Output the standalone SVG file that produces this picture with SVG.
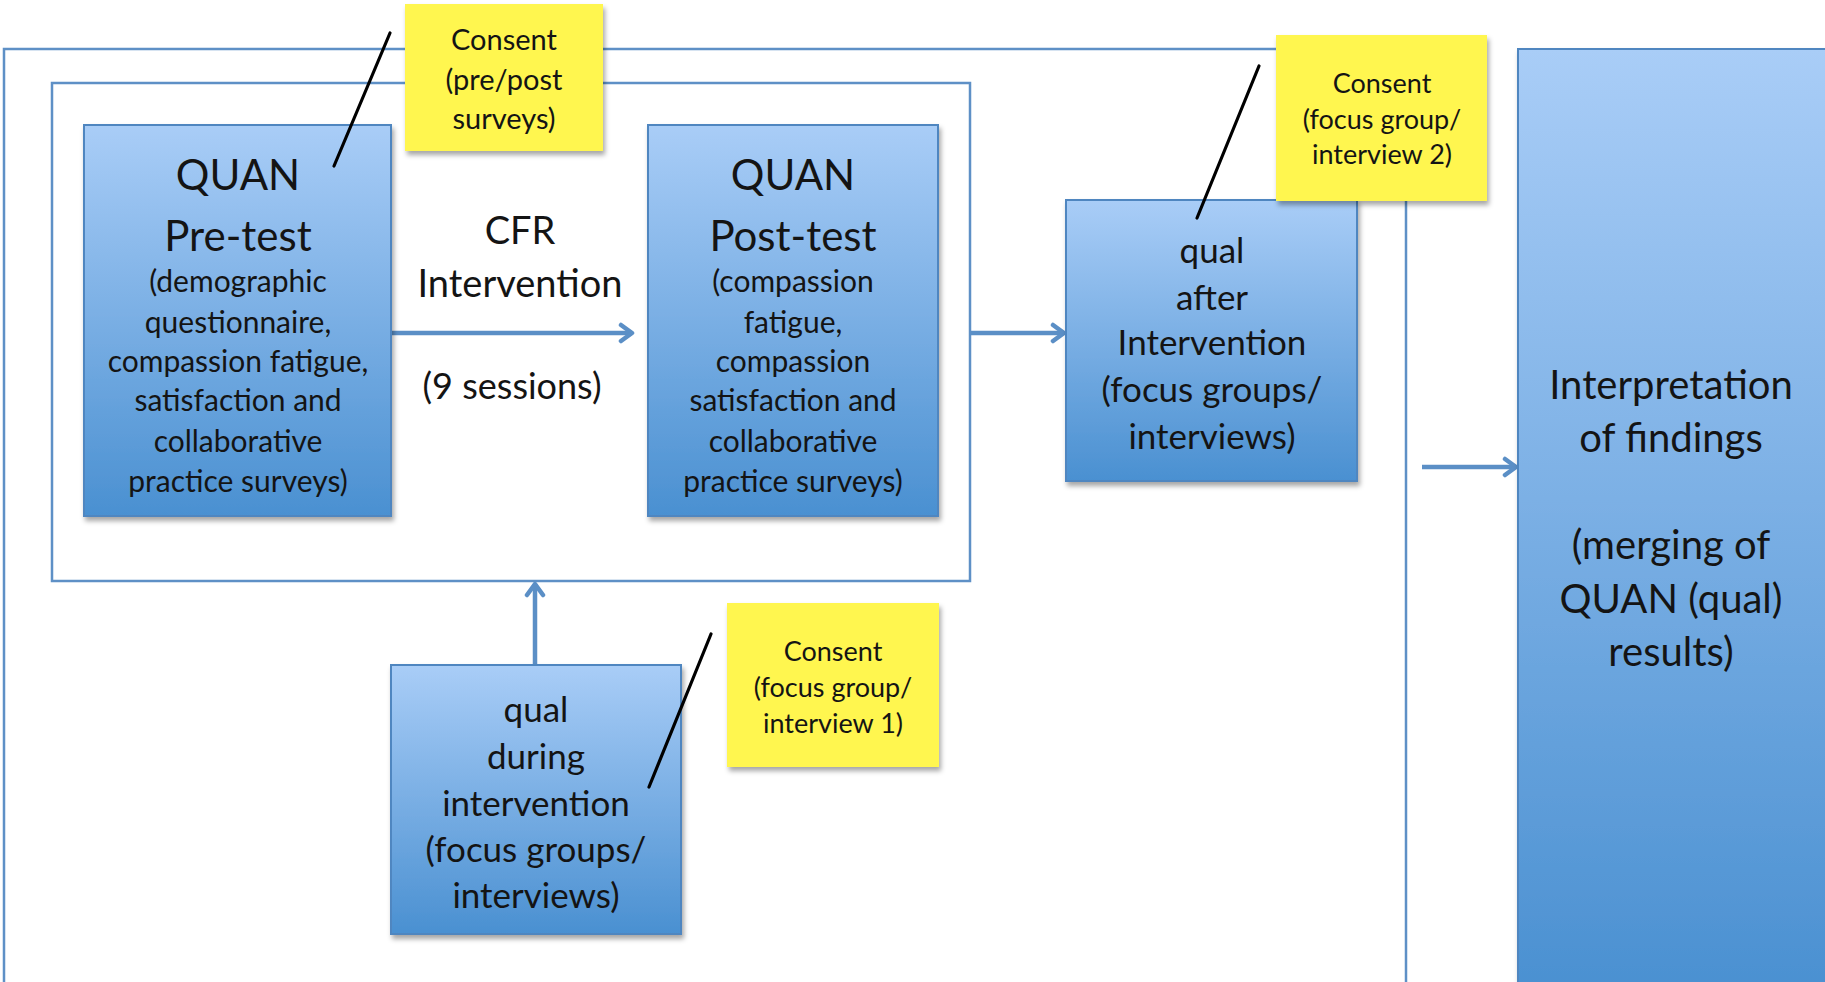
<svg xmlns="http://www.w3.org/2000/svg" width="1825" height="982" viewBox="0 0 1825 982">
<defs>
<linearGradient id="blue" x1="0" y1="0" x2="0" y2="1">
<stop offset="0" stop-color="#a9cdf7"/>
<stop offset="1" stop-color="#4a90d1"/>
</linearGradient>
<filter id="sh" x="-10%" y="-10%" width="130%" height="130%">
<feDropShadow dx="2" dy="4" stdDeviation="2.5" flood-color="#000" flood-opacity="0.35"/>
</filter>
<marker id="ah" viewBox="0 0 22 22" refX="18" refY="11" markerWidth="22" markerHeight="22" markerUnits="userSpaceOnUse" orient="auto">
<path d="M7,3 L18,11 L7,19" fill="none" stroke="#5b8fc6" stroke-width="4.5" stroke-linecap="round" stroke-linejoin="round"/>
</marker>
<style>
.frame{fill:none;stroke:#5e90c6;stroke-width:2.5}
.box{fill:url(#blue);stroke:#4f86c0;stroke-width:2;filter:url(#sh)}
.note{fill:#fff64f;filter:url(#sh)}
.conn{fill:none;stroke:#5b8fc6;stroke-width:4.5;marker-end:url(#ah)}
.pin{stroke:#000;stroke-width:3.2;stroke-linecap:round}
text{font-family:Lato,"Open Sans","Liberation Sans",sans-serif;fill:#141414;text-anchor:middle}
.big{font-size:42px}
.mid{font-size:38px}
.ses{font-size:36px}
.int{font-size:40px}
.sm{font-size:30px}
.lab{font-size:35px}
.nt{font-size:29px}
.nt2{font-size:27px}
</style>
</defs>
<rect width="1825" height="982" fill="#ffffff"/>
<g id="frames">
<rect class="frame" x="4" y="49" width="1402" height="940"/>
<rect class="frame" x="52" y="83" width="918" height="498"/>
</g>
<g id="connectors">
<path class="conn" d="M391,333 L632,333"/>
<path class="conn" d="M970,333 L1064,333"/>
<path class="conn" d="M1422,467 L1516,467"/>
<path class="conn" d="M535,665 L535,584"/>
</g>
<g id="pretest">
<rect class="box" x="84" y="125" width="307" height="391"/>
<text class="big" x="238" y="190">QUAN</text>
<text class="big" x="238" y="251">Pre-test</text>
<text class="sm" x="238" y="292">(demographic</text>
<text class="sm" x="238" y="333">questionnaire,</text>
<text class="sm" x="238" y="372">compassion fatigue,</text>
<text class="sm" x="238" y="411">satisfaction and</text>
<text class="sm" x="238" y="452">collaborative</text>
<text class="sm" x="238" y="492">practice surveys)</text>
</g>
<g id="cfr">
<text class="mid" x="520" y="244">CFR</text>
<text class="mid" x="520" y="297">Intervention</text>
<text class="ses" x="512" y="399">(9 sessions)</text>
</g>
<g id="posttest">
<rect class="box" x="648" y="125" width="290" height="391"/>
<text class="big" x="793" y="190">QUAN</text>
<text class="big" x="793" y="251">Post-test</text>
<text class="sm" x="793" y="292">(compassion</text>
<text class="sm" x="793" y="333">fatigue,</text>
<text class="sm" x="793" y="372">compassion</text>
<text class="sm" x="793" y="411">satisfaction and</text>
<text class="sm" x="793" y="452">collaborative</text>
<text class="sm" x="793" y="492">practice surveys)</text>
</g>
<g id="qualafter">
<rect class="box" x="1066" y="200" width="291" height="281"/>
<text class="lab" x="1212" y="263">qual</text>
<text class="lab" x="1212" y="310">after</text>
<text class="lab" x="1212" y="355">Intervention</text>
<text class="lab" x="1212" y="402">(focus groups/</text>
<text class="lab" x="1212" y="449">interviews)</text>
</g>
<g id="qualduring">
<rect class="box" x="391" y="665" width="290" height="269"/>
<text class="lab" x="536" y="722">qual</text>
<text class="lab" x="536" y="769">during</text>
<text class="lab" x="536" y="816">intervention</text>
<text class="lab" x="536" y="862">(focus groups/</text>
<text class="lab" x="536" y="908">interviews)</text>
</g>
<g id="interpretation">
<rect class="box" x="1518" y="49" width="320" height="945"/>
<text class="int" x="1671" y="399">Interpretation</text>
<text class="int" x="1671" y="452">of findings</text>
<text class="int" x="1671" y="559">(merging of</text>
<text class="int" x="1671" y="613">QUAN (qual)</text>
<text class="int" x="1671" y="666">results)</text>
</g>
<g id="consent1">
<rect class="note" x="405" y="4" width="198" height="147"/>
<text class="nt" x="504" y="50">Consent</text>
<text class="nt" x="504" y="90">(pre/post</text>
<text class="nt" x="504" y="129">surveys)</text>
<line class="pin" x1="390" y1="33" x2="334" y2="166"/>
</g>
<g id="consent2">
<rect class="note" x="1276" y="35" width="211" height="166"/>
<text class="nt2" x="1382" y="93">Consent</text>
<text class="nt2" x="1382" y="129">(focus group/</text>
<text class="nt2" x="1382" y="164">interview 2)</text>
<line class="pin" x1="1259" y1="66" x2="1197" y2="218"/>
</g>
<g id="consent3">
<rect class="note" x="727" y="603" width="212" height="164"/>
<text class="nt2" x="833" y="661">Consent</text>
<text class="nt2" x="833" y="697">(focus group/</text>
<text class="nt2" x="833" y="733">interview 1)</text>
<line class="pin" x1="711" y1="634" x2="649" y2="787"/>
</g>
</svg>
